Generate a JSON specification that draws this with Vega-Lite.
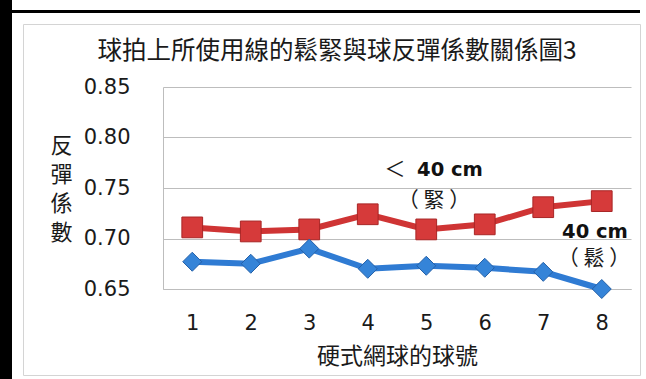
{
  "$schema": "https://vega.github.io/schema/vega-lite/v6.json",
  "background": "white",
  "padding": 0,
  "autosize": {"type": "pad"},
  "config": {
    "view": {"stroke": null},
    "concat": {"spacing": 0},
    "font": "Noto Sans CJK TC"
  },
  "datasets": {
    "coef": [
      {"ball": 1, "string": "緊", "value": 0.711},
      {"ball": 2, "string": "緊", "value": 0.707},
      {"ball": 3, "string": "緊", "value": 0.709},
      {"ball": 4, "string": "緊", "value": 0.724},
      {"ball": 5, "string": "緊", "value": 0.709},
      {"ball": 6, "string": "緊", "value": 0.714},
      {"ball": 7, "string": "緊", "value": 0.731},
      {"ball": 8, "string": "緊", "value": 0.737},
      {"ball": 1, "string": "鬆", "value": 0.677},
      {"ball": 2, "string": "鬆", "value": 0.675},
      {"ball": 3, "string": "鬆", "value": 0.690},
      {"ball": 4, "string": "鬆", "value": 0.670},
      {"ball": 5, "string": "鬆", "value": 0.673},
      {"ball": 6, "string": "鬆", "value": 0.671},
      {"ball": 7, "string": "鬆", "value": 0.667},
      {"ball": 8, "string": "鬆", "value": 0.650}
    ],
    "notes": [
      {"kind": "bold", "x": 5.406, "y": 0.7678, "label": "40 cm"},
      {"kind": "bold", "x": 7.885, "y": 0.7069, "label": "40 cm"},
      {"kind": "plain", "x": 4.466, "y": 0.7678, "label": "＜"},
      {"kind": "plain", "x": 5.132, "y": 0.7371, "label": "（ 緊 ）"},
      {"kind": "plain", "x": 7.868, "y": 0.6797, "label": "（ 鬆 ）"}
    ],
    "blank": [{}]
  },
  "bounds": "flush",
  "spacing": 0,
  "hconcat": [
    {
      "width": 12,
      "height": 379,
      "data": {"name": "blank"},
      "mark": {"type": "rect", "color": "black"},
      "encoding": {}
    },
    {
      "bounds": "flush",
      "spacing": 0,
      "vconcat": [
        {
          "width": 628,
          "height": 10,
          "data": {"name": "blank"},
          "mark": {"type": "point", "opacity": 0},
          "encoding": {}
        },
        {
          "width": 628,
          "height": 3,
          "data": {"name": "blank"},
          "mark": {"type": "rect", "color": "black"},
          "encoding": {}
        },
        {
          "width": 628,
          "height": 11,
          "data": {"name": "blank"},
          "mark": {"type": "point", "opacity": 0},
          "encoding": {}
        },
        {
          "bounds": "flush",
          "spacing": 0,
          "hconcat": [
            {
              "width": 11,
              "height": 351,
              "data": {"name": "blank"},
              "mark": {"type": "point", "opacity": 0},
              "encoding": {}
            },
            {
              "bounds": "flush",
              "spacing": 0,
              "vconcat": [
                {
                  "bounds": "flush",
                  "spacing": 0,
                  "vconcat": [
                    {
                      "width": 617,
                      "height": 63,
                      "data": {"name": "blank"},
                      "mark": {"type": "point", "opacity": 0},
                      "encoding": {}
                    },
                    {
                      "bounds": "flush",
                      "spacing": 0,
                      "hconcat": [
                        {
                          "width": 140,
                          "height": 202,
                          "data": {"name": "blank"},
                          "mark": {"type": "point", "opacity": 0},
                          "encoding": {}
                        },
                        {
                          "width": 468,
                          "height": 202,
                          "title": {
                            "text": "球拍上所使用線的鬆緊與球反彈係數關係圖3",
                            "font": "Noto Sans CJK TC",
                            "fontSize": 24.5,
                            "fontWeight": "normal",
                            "color": "#1a1a1a",
                            "anchor": "middle",
                            "frame": "group",
                            "baseline": "alphabetic",
                            "dx": -60,
                            "offset": -7
                          },
                          "layer": [
                            {
                              "data": {"name": "coef"},
                              "mark": {"type": "line", "strokeWidth": 6},
                              "encoding": {
                                "x": {
                                  "field": "ball",
                                  "type": "quantitative",
                                  "scale": {"domain": [0.5, 8.5], "nice": false, "zero": false},
                                  "axis": {
                                    "title": "硬式網球的球號",
                                    "values": [1, 2, 3, 4, 5, 6, 7, 8],
                                    "format": "d",
                                    "grid": false,
                                    "ticks": false,
                                    "domainColor": "#bdbdbd",
                                    "domainWidth": 1,
                                    "labelFont": "DejaVu Sans",
                                    "labelFontSize": 21,
                                    "labelColor": "#1a1a1a",
                                    "labelPadding": 23,
                                    "titleFont": "Noto Sans CJK TC",
                                    "titleFontSize": 23,
                                    "titleFontWeight": "normal",
                                    "titleColor": "#1a1a1a",
                                    "titlePadding": 12
                                  }
                                },
                                "y": {
                                  "field": "value",
                                  "type": "quantitative",
                                  "scale": {"domain": [0.65, 0.85], "nice": false, "zero": false},
                                  "axis": {
                                    "title": ["反", "彈", "係", "數"],
                                    "values": [0.65, 0.7, 0.75, 0.8, 0.85],
                                    "format": ".2f",
                                    "grid": true,
                                    "gridColor": "#bdbdbd",
                                    "gridWidth": 1,
                                    "ticks": false,
                                    "domainColor": "#bdbdbd",
                                    "domainWidth": 1,
                                    "labelFont": "DejaVu Sans",
                                    "labelFontSize": 21,
                                    "labelColor": "#1a1a1a",
                                    "labelPadding": 33,
                                    "titleFont": "Noto Sans CJK TC",
                                    "titleFontSize": 22,
                                    "titleFontWeight": "normal",
                                    "titleColor": "#1a1a1a",
                                    "titleAngle": 0,
                                    "titleAlign": "center",
                                    "titleBaseline": "top",
                                    "titleLineHeight": 29,
                                    "titleX": -102,
                                    "titleY": 48
                                  }
                                },
                                "color": {
                                  "field": "string",
                                  "type": "nominal",
                                  "scale": {"domain": ["緊", "鬆"], "range": ["#cf3434", "#2f7bd3"]},
                                  "legend": null
                                }
                              }
                            },
                            {
                              "data": {"name": "coef"},
                              "transform": [{"filter": "datum.string === '緊'"}],
                              "mark": {
                                "type": "point",
                                "shape": "square",
                                "size": 430,
                                "filled": true,
                                "fill": "#d63a3a",
                                "stroke": "#a82626",
                                "strokeWidth": 1,
                                "opacity": 1
                              },
                              "encoding": {
                                "x": {"field": "ball", "type": "quantitative"},
                                "y": {"field": "value", "type": "quantitative"}
                              }
                            },
                            {
                              "data": {"name": "coef"},
                              "transform": [{"filter": "datum.string === '鬆'"}],
                              "mark": {
                                "type": "point",
                                "shape": "diamond",
                                "size": 361,
                                "filled": true,
                                "fill": "#3584d8",
                                "stroke": "#2460a8",
                                "strokeWidth": 1,
                                "opacity": 1
                              },
                              "encoding": {
                                "x": {"field": "ball", "type": "quantitative"},
                                "y": {"field": "value", "type": "quantitative"}
                              }
                            },
                            {
                              "data": {"name": "notes"},
                              "transform": [{"filter": "datum.kind === 'bold'"}],
                              "mark": {
                                "type": "text",
                                "font": "DejaVu Sans",
                                "fontSize": 19.5,
                                "fontWeight": "bold",
                                "color": "#111111",
                                "align": "center",
                                "baseline": "middle"
                              },
                              "encoding": {
                                "x": {"field": "x", "type": "quantitative"},
                                "y": {"field": "y", "type": "quantitative"},
                                "text": {"field": "label"}
                              }
                            },
                            {
                              "data": {"name": "notes"},
                              "transform": [{"filter": "datum.kind === 'plain'"}],
                              "mark": {
                                "type": "text",
                                "font": "Noto Sans CJK TC",
                                "fontSize": 21,
                                "color": "#1a1a1a",
                                "align": "center",
                                "baseline": "middle"
                              },
                              "encoding": {
                                "x": {"field": "x", "type": "quantitative"},
                                "y": {"field": "y", "type": "quantitative"},
                                "text": {"field": "label"}
                              }
                            }
                          ]
                        }
                      ]
                    }
                  ]
                },
                {
                  "width": 617,
                  "height": 351,
                  "view": {"stroke": "#d4d4d4", "strokeWidth": 1},
                  "data": {"name": "blank"},
                  "mark": {"type": "point", "opacity": 0},
                  "encoding": {}
                }
              ]
            }
          ]
        }
      ]
    }
  ]
}
